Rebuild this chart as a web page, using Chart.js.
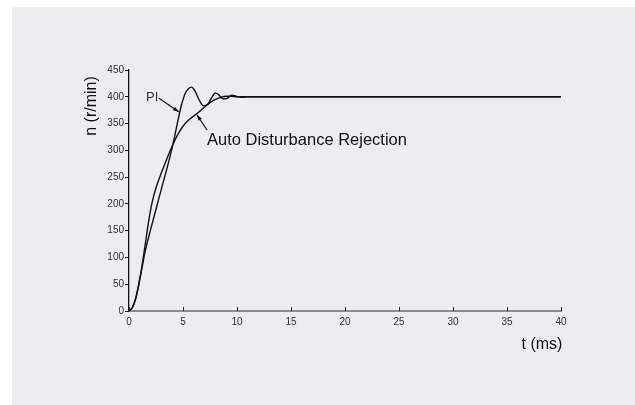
<!DOCTYPE html>
<html lang="en">

<head>
  <meta charset="UTF-8" />
  <title>Speed response</title>
  <style>
    body { margin: 0; background: #fff; }
  </style>
</head>

<body>
  <canvas id="myChart" width="635" height="405"></canvas>

  <script src="https://cdn.jsdelivr.net/npm/chart.js"></script>

  <script>
    // time (ms) and speed (r/min)
    const piTime = [0, 0.3, 0.6, 0.9, 1.2, 1.5, 2.0, 2.5, 3.0, 3.5, 4.0, 4.4, 4.8, 5.2, 5.5, 5.8, 6.1, 6.5, 6.9, 7.3, 7.7, 8.0, 8.3, 8.7, 9.1, 9.5, 9.9, 10.4, 11, 40];
    const piSpeed = [0, 6, 22, 48, 80, 112, 152, 190, 228, 265, 305, 343, 380, 406, 415, 418, 411, 394, 383, 386, 400, 407, 404, 396, 397, 403, 401, 399, 400, 400];

    const adrTime = [0, 0.3, 0.6, 0.9, 1.2, 1.5, 1.8, 2.1, 2.5, 3.0, 3.5, 4.0, 4.5, 5.0, 5.5, 6.0, 6.5, 7.0, 7.5, 8.0, 8.5, 9.0, 9.5, 10, 40];
    const adrSpeed = [0, 6, 22, 50, 84, 124, 165, 199, 230, 258, 284, 308, 329, 345, 356, 364, 372, 381, 389, 395, 399, 401, 401, 400, 400];

    const xTicks = [0, 5, 10, 15, 20, 25, 30, 35, 40];
    const yTicks = [0, 50, 100, 150, 200, 250, 300, 350, 400, 450];

    const toPoints = (xs, ys) => xs.map((x, i) => ({ x: x, y: ys[i] }));

    const FONT = "'Liberation Sans', Arial, sans-serif";

    const decor = {
      id: "decor",
      beforeDraw(chart) {
        const c = chart.ctx;
        c.save();
        c.fillStyle = "#ffffff";
        c.fillRect(0, 0, chart.width, chart.height);
        c.fillStyle = "#ecedef";
        c.fillRect(12, 7, chart.width - 12, chart.height - 7);
        c.restore();
      },
      afterDraw(chart) {
        const c = chart.ctx;
        const xs = chart.scales.x;
        const ys = chart.scales.y;
        const y0 = ys.getPixelForValue(0);
        c.save();

        // small inward ticks on the time axis
        c.strokeStyle = "#222";
        c.lineWidth = 1;
        xTicks.forEach((t) => {
          const px = Math.round(xs.getPixelForValue(t)) + 0.5;
          c.beginPath();
          c.moveTo(px, y0);
          c.lineTo(px, y0 - 4);
          c.stroke();
        });

        // axis titles
        c.fillStyle = "#111";
        c.font = "16px " + FONT;
        c.textAlign = "center";
        c.textBaseline = "middle";
        c.fillText("t (ms)", 542, 345);
        c.save();
        c.translate(92, 106);
        c.rotate(-Math.PI / 2);
        c.fillText("n (r/min)", 0, 0);
        c.restore();

        // labels with arrows
        const arrow = (x1, y1, x2, y2) => {
          const a = Math.atan2(y2 - y1, x2 - x1);
          c.beginPath();
          c.moveTo(x1, y1);
          c.lineTo(x2, y2);
          c.stroke();
          c.beginPath();
          c.moveTo(x2, y2);
          c.lineTo(x2 - 6 * Math.cos(a - 0.35), y2 - 6 * Math.sin(a - 0.35));
          c.lineTo(x2 - 6 * Math.cos(a + 0.35), y2 - 6 * Math.sin(a + 0.35));
          c.closePath();
          c.fill();
        };

        c.strokeStyle = "#111";
        c.lineWidth = 1.2;
        c.fillStyle = "#333";
        c.font = "13px " + FONT;
        c.textAlign = "left";
        c.fillText("PI", 146, 97);
        c.fillStyle = "#111";
        arrow(xs.getPixelForValue(2.75), 98, xs.getPixelForValue(4.6), ys.getPixelForValue(372));

        c.font = "16.5px " + FONT;
        c.fillText("Auto Disturbance Rejection", 207, 140);
        arrow(207, 130, xs.getPixelForValue(6.3), ys.getPixelForValue(366));

        c.restore();
      },
    };

    const ctx = document.getElementById("myChart");

    new Chart(ctx, {
      type: "line",
      data: {
        datasets: [
          {
            label: "PI",
            data: toPoints(piTime, piSpeed),
            borderColor: "#111",
            borderWidth: 1.4,
            pointRadius: 0,
            cubicInterpolationMode: "monotone",
            fill: false,
          },
          {
            label: "Auto Disturbance Rejection",
            data: toPoints(adrTime, adrSpeed),
            borderColor: "#111",
            borderWidth: 1.4,
            pointRadius: 0,
            cubicInterpolationMode: "monotone",
            fill: false,
          },
        ],
      },
      options: {
        responsive: false,
        animation: false,
        devicePixelRatio: 1,
        layout: { padding: { top: 70, right: 74, left: 0, bottom: 0 } },
        plugins: {
          legend: { display: false },
          tooltip: { enabled: false },
        },
        scales: {
          x: {
            type: "linear",
            min: 0,
            max: 40,
            afterBuildTicks: (axis) => { axis.ticks = xTicks.map((v) => ({ value: v })); },
            afterFit: (axis) => { axis.height = 94; },
            grid: { drawOnChartArea: false, drawTicks: false },
            border: { color: "#8a8a8a", width: 2 },
            ticks: { color: "#333", font: { size: 10, family: FONT }, padding: 5, maxRotation: 0 },
          },
          y: {
            type: "linear",
            min: 0,
            max: 450,
            afterBuildTicks: (axis) => { axis.ticks = yTicks.map((v) => ({ value: v })); },
            afterFit: (axis) => { axis.width = 129; },
            grid: { drawOnChartArea: false, drawTicks: true, tickLength: 4, color: "#111" },
            border: { color: "#111", width: 1.3 },
            ticks: { color: "#333", font: { size: 10, family: FONT }, padding: 1 },
          },
        },
      },
      plugins: [decor],
    });
  </script>
</body>

</html>
